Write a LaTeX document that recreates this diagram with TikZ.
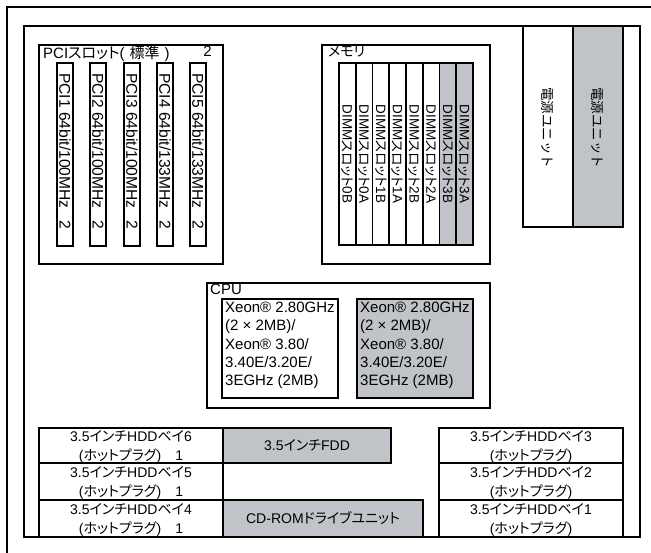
\documentclass[tikz,border=0pt]{standalone}
\usepackage{fontspec}
\setmainfont{Liberation Sans}
\newfontfamily\jpfont[RawFeature={+palt}]{Noto Sans CJK JP}
\newfontfamily\jpfull{Noto Sans CJK JP}
\newcommand\J[1]{{\jpfont #1}}
\newcommand\fs[2]{\fontsize{#1bp}{#2bp}\selectfont}
\definecolor{slotgray}{RGB}{192,196,201}
\begin{document}
\begin{tikzpicture}[x=1bp,y=-1bp,
  frameline/.style={draw=black, line width=2bp},
  box/.style={draw=black, line width=1.9bp, inner sep=0pt, outer sep=0pt, anchor=north west},
  gbox/.style={box, fill=slotgray},
  title/.style={anchor=north west, inner sep=0pt, font=\fs{15}{18}},
  rottext/.style={rotate=-90, inner sep=0pt},
  pcitext/.style={rottext, anchor=west, font=\fs{15.6}{18}},
  dimmtext/.style={rottext, font=\fs{13.5}{16}},
  psutext/.style={rottext, font=\fs{13.5}{16}\jpfull},
  bay/.style={align=center, inner sep=0pt, font=\fs{14}{18.5}},
  cputext/.style={anchor=north west, align=left, inner sep=0pt, font=\fs{15}{18.3}}
]
\useasboundingbox (0,0) rectangle (651,553);
% outer frame (only top and left visible)
\coordinate (ofbl) at (7,553);
\coordinate (oftl) at (7,7);
\coordinate (oftr) at (651,7);
\draw[frameline] (ofbl) -- (oftl) -- (oftr);
% chassis
\node[box, line width=2bp, minimum width=616bp, minimum height=511bp] (chassis) at (24,26) {};
% power units
\node[box, minimum width=50bp, minimum height=201bp] (psu1) at (523,26) {};
\node[gbox, minimum width=50bp, minimum height=201bp] (psu2) at (573,26) {};
\node[psutext] (psu1t) at ([yshift=-1.5bp]psu1.center) {電源ユニット};
\node[psutext] (psu2t) at ([yshift=-1.5bp]psu2.center) {電源ユニット};
% PCI
\node[box, minimum width=184bp, minimum height=219bp] (pci) at (39,45) {};
\node[title] (pcit) at ([xshift=4bp,yshift=-1bp]pci.north west) {PCI\J{スロット}(\hspace{5bp}\J{標準}\hspace{5bp})};
\node[title, anchor=north east] (pcin) at ([xshift=-11bp,yshift=-1bp]pci.north east) {2};
\foreach \i/\x/\s in {1/57/100,2/90/100,3/124/100,4/157/133,5/190/133}{
  \node[box, minimum width=16bp, minimum height=183bp] (pcis\i) at (\x,63) {};
  \node[pcitext] (pcil\i) at ([yshift=-10bp]pcis\i.north) {PCI\i\ 64bit/\s MHz};
  \node[rottext, font=\fs{15.6}{18}] (pcin\i) at ([yshift=-162bp]pcis\i.north) {2};
}
% Memory
\node[box, minimum width=168bp, minimum height=219bp] (mem) at (322,45) {};
\node[title, font=\fs{14}{16}] (memt) at ([xshift=6bp,yshift=-1bp]mem.north west) {\J{メモリ}};
\foreach \i/\l/\st in {0/0B/box,1/0A/box,2/1B/box,3/1A/box,4/2B/box,5/2A/box,6/3B/gbox,7/3A/gbox}{
  \node[\st, minimum width=16.75bp, minimum height=182bp] (dimm\i) at ({339+16.75*\i},63) {};
  \node[dimmtext] (dimml\i) at (dimm\i.center) {DIMM\J{スロット}\l};
}
% CPU
\node[box, minimum width=283bp, minimum height=125bp] (cpu) at (207,283) {};
\node[title] (cput) at ([xshift=3bp,yshift=-1bp]cpu.north west) {CPU};
\node[box, minimum width=116bp, minimum height=99bp] (cpu1) at (222,299) {};
\node[gbox, minimum width=116bp, minimum height=99bp] (cpu2) at (357,299) {};
\foreach \c in {cpu1,cpu2}{
  \node[cputext] (\c t) at ([xshift=3bp,yshift=-3bp]\c.north west)
    {Xeon® 2.80GHz\\(2 × 2MB)/\\Xeon® 3.80/\\3.40E/3.20E/\\3EGHz (2MB)};
}
% drive bays
\node[box, minimum width=184bp, minimum height=35bp] (hdd6) at (39,428) {};
\node[box, minimum width=184bp, minimum height=37bp] (hdd5) at (39,463) {};
\node[box, minimum width=184bp, minimum height=37bp] (hdd4) at (39,500) {};
\node[gbox, minimum width=168bp, minimum height=35bp] (fdd) at (223,428) {};
\node[gbox, minimum width=200bp, minimum height=37bp] (cdrom) at (223,500) {};
\node[box, minimum width=184bp, minimum height=35bp] (hdd3) at (439,428) {};
\node[box, minimum width=184bp, minimum height=37bp] (hdd2) at (439,463) {};
\node[box, minimum width=184bp, minimum height=37bp] (hdd1) at (439,500) {};
\foreach \n in {6,5,4}{
  \node[bay] (hdd\n t) at ([yshift=-1.5bp]hdd\n.center) {3.5\J{インチ}HDD\J{ベイ}\n\\(\J{ホットプラグ})\hspace{14bp}1};
}
\foreach \n in {3,2,1}{
  \node[bay] (hdd\n t) at ([yshift=-1.5bp]hdd\n.center) {3.5\J{インチ}HDD\J{ベイ}\n\\(\J{ホットプラグ})};
}
\node[bay] (fddt) at (fdd.center) {3.5\J{インチ}FDD};
\node[bay] (cdromt) at (cdrom.center) {CD-ROM\J{ドライブユニット}};
\end{tikzpicture}
\end{document}
